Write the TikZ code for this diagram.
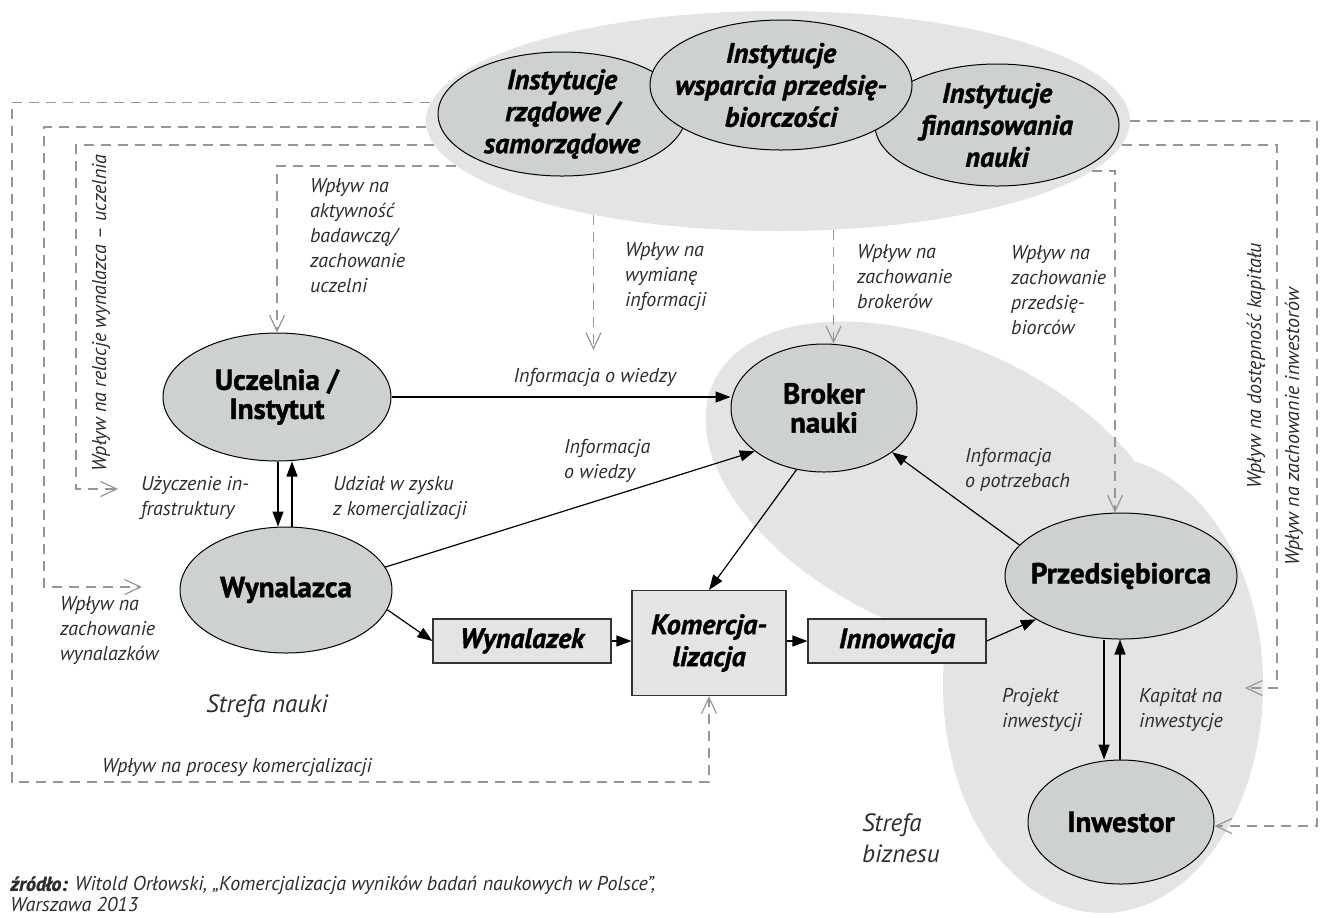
\documentclass[tikz,border=0pt]{standalone}
\usepackage{fontspec}
\setmainfont{PT Sans}[BoldFeatures={FakeBold=1.3}, BoldItalicFeatures={FakeBold=1.3}]
\usetikzlibrary{arrows.meta,positioning,shapes.geometric,calc}

\definecolor{zonegray}{RGB}{227,228,227}
\definecolor{actorgray}{RGB}{205,209,207}
\definecolor{dashgray}{RGB}{150,150,150}
\definecolor{labelgray}{RGB}{45,45,45}

\tikzset{
  zone/.style={ellipse, fill=zonegray, inner sep=0pt},
  actor/.style={ellipse, draw=black, line width=0.5pt, fill=actorgray, inner sep=0pt},
  actortext/.style={align=center, font=\fontsize{14.5}{14.5}\selectfont\bfseries},
  insttext/.style={align=center, font=\fontsize{14}{16}\selectfont\bfseries\itshape},
  stagebox/.style={rectangle, draw=black!80, line width=0.6pt, fill=zonegray, inner sep=0pt,
    align=center, font=\fontsize{14}{16}\selectfont\bfseries\itshape},
  flow/.style={-{Triangle[length=7.5pt,width=5.5pt]}, line width=0.6pt},
  influence/.style={-{Straight Barb[length=8pt,width=7.5pt,line width=0.6pt]}, draw=dashgray,
    line width=0.7pt, dash pattern=on 5pt off 3.5pt},
  note/.style={align=left, text=labelgray, font=\fontsize{10}{12.5}\selectfont\itshape},
  zonetext/.style={align=left, text=labelgray, font=\fontsize{12.5}{15.5}\selectfont\itshape},
}

\begin{document}
\begin{tikzpicture}[x=0.5pt,y=-0.5pt]
  \useasboundingbox (0,0) rectangle (1325,917);
  % Zones
  \node[zone, minimum width=352pt, minimum height=110pt] (instzone) at (778,121) {};
  \fill[zonegray, rotate around={-25:(940,488)}] (940,488) ellipse [x radius=125pt, y radius=71pt];
  \fill[zonegray] (1103,685) ellipse [x radius=80pt, y radius=114pt];
  % Institutions
  \node[actor, minimum width=124pt, minimum height=62pt,
    label={[insttext]center:{Instytucje\\rządowe /\\samorządowe}}] (gov) at (562,114) {};
  \node[actor, minimum width=122pt, minimum height=61pt,
    label={[insttext]center:{Instytucje\\finansowania\\nauki}}] (fin) at (997,125) {};
  \node[actor, minimum width=131pt, minimum height=65pt,
    label={[insttext]center:{Instytucje\\wsparcia przedsię-\\biorczości}}] (support) at (781,85) {};
  % Actors
  \node[actor, minimum width=114pt, minimum height=64pt,
    label={[actortext]center:{Uczelnia /\\Instytut}}] (uczelnia) at (277,397) {};
  \node[actor, minimum width=106pt, minimum height=63pt,
    label={[actortext]center:Wynalazca}] (wynalazca) at (286,590) {};
  \node[actor, minimum width=93pt, minimum height=64pt,
    label={[actortext]center:{Broker\\nauki}}] (broker) at (824,408) {};
  \node[actor, minimum width=116pt, minimum height=63pt,
    label={[actortext]center:Przedsiębiorca}] (przeds) at (1121,576) {};
  \node[actor, minimum width=93pt, minimum height=62pt,
    label={[actortext]center:Inwestor}] (inwestor) at (1121,822) {};
  % Stages
  \node[stagebox, minimum width=89pt, minimum height=22pt] (wynalazek) at (522,641) {Wynalazek};
  \node[stagebox, minimum width=77pt, minimum height=52.5pt] (komerc) at (709,643) {Komercja-\\lizacja};
  \node[stagebox, minimum width=89pt, minimum height=22pt] (innowacja) at (897,641) {Innowacja};
  % Flows
  \draw[flow] (uczelnia.east) -- (uczelnia.east -| broker.west)
    node[note, pos=0.6, above=1.5pt] (lWiedza) {Informacja o wiedzy};
  \draw[flow] (wynalazca.13) -- (broker.212);
  \node[note, anchor=west] (lWiedza2) at (557,461) {Informacja\\o wiedzy};
  \draw[flow] (broker.246) -- (komerc.north);
  \draw[flow] (przeds.163) -- (broker.-33);
  \node[note, anchor=west] (lPotrzeby) at (958,470) {Informacja\\o potrzebach};
  \draw[flow] (wynalazca.-11) -- (wynalazek.west);
  \draw[flow] (wynalazek.east) -- (wynalazek.east -| komerc.west);
  \draw[flow] (komerc.east |- innowacja.west) -- (innowacja.west);
  \draw[flow] (innowacja.east) -- (przeds.207);
  % University - inventor
  \draw[flow] ([xshift=0.5pt]uczelnia.south) -- ([xshift=0.5pt]uczelnia.south |- wynalazca.north);
  \draw[flow] ([xshift=3pt]wynalazca.north) -- ([xshift=3pt]wynalazca.north |- uczelnia.south);
  \node[note, anchor=west] (lInfra) at (134,498) {Użyczenie in-\\frastruktury};
  \node[note, anchor=west] (lZysk) at (326,498) {Udział w zysku\\z komercjalizacji};
  % Entrepreneur - investor
  \draw[flow] ([xshift=-8.5pt]przeds.south) -- ([xshift=-8.5pt]przeds.south |- inwestor.north);
  \draw[flow] ([xshift=-0.5pt]inwestor.north) -- ([xshift=-0.5pt]inwestor.north |- przeds.south);
  \node[note, anchor=west] (lProjekt) at (995,710) {Projekt\\inwestycji};
  \node[note, anchor=west] (lKapital) at (1132,710) {Kapitał na\\inwestycje};
  % Influences, left side
  \coordinate (cA) at (12,782);
  \draw[influence] (instzone.177) -| (cA) -| (komerc.south);
  \node[note, anchor=west] (lProcesy) at (95,767) {Wpływ na procesy komercjalizacji};
  \coordinate (cB) at (44,587);
  \coordinate (cBend) at (142,587);
  \draw[influence] (instzone.181) -| (cB) -- (cBend);
  \node[note, anchor=west] (lWynalazki) at (53,631) {Wpływ na\\zachowanie\\wynalazków};
  \coordinate (cC) at (76,489);
  \coordinate (cCend) at (118,489);
  \draw[influence] (instzone.184.3) -| (cC) -- (cCend);
  \node[note, rotate=90] (lRelacje) at (101,313) {Wpływ na relacje wynalazca – uczelnia};
  \draw[influence] (instzone.188.2) -| (uczelnia.north);
  \node[note, anchor=west] (lAktywnosc) at (303,236) {Wpływ na\\aktywność\\badawczą/\\zachowanie\\uczelni};
  % Influences, middle
  \coordinate (cE) at (598,350);
  \draw[influence] (instzone.207.7) -- (instzone.207.7 |- cE);
  \node[note, anchor=west] (lWymiana) at (618,277) {Wpływ na\\wymianę\\informacji};
  \draw[influence] (instzone.-63.6) -- (instzone.-63.6 |- broker.north);
  \node[note, anchor=west] (lBrokerzy) at (850,277) {Wpływ na\\zachowanie\\brokerów};
  % Influences, right side
  \draw[influence] (instzone.-9.5) -| ([xshift=-3pt]przeds.north);
  \node[note, anchor=west] (lPrzeds) at (1004,290) {Wpływ na\\zachowanie\\przedsię-\\biorców};
  \coordinate (cH) at (1277,688);
  \coordinate (cHend) at (1245,688);
  \draw[influence] (instzone.-4.35) -| (cH) -- (cHend);
  \node[note, rotate=90] (lKapitalu) at (1256,366) {Wpływ na dostępność kapitału};
  \coordinate (cI) at (1317,826);
  \draw[influence] (instzone.east) -| (cI) -- (cI -| inwestor.east);
  \node[note, rotate=90] (lInwestorzy) at (1294,427) {Wpływ na zachowanie inwestorów};
  % Zone names and source
  \node[zonetext] (lNauka) at (267,706) {Strefa nauki};
  \node[zonetext, anchor=west] (lBiznes) at (855,838) {Strefa\\biznesu};
  \node[anchor=north west, inner sep=0pt, align=left, text=labelgray,
    font=\fontsize{10}{10.5}\selectfont\itshape]
    (zrodlo) at (10,876) {\textbf{źródło:} Witold Orłowski, „Komercjalizacja wyników badań naukowych w Polsce”,\\Warszawa 2013};
\end{tikzpicture}
\end{document}
